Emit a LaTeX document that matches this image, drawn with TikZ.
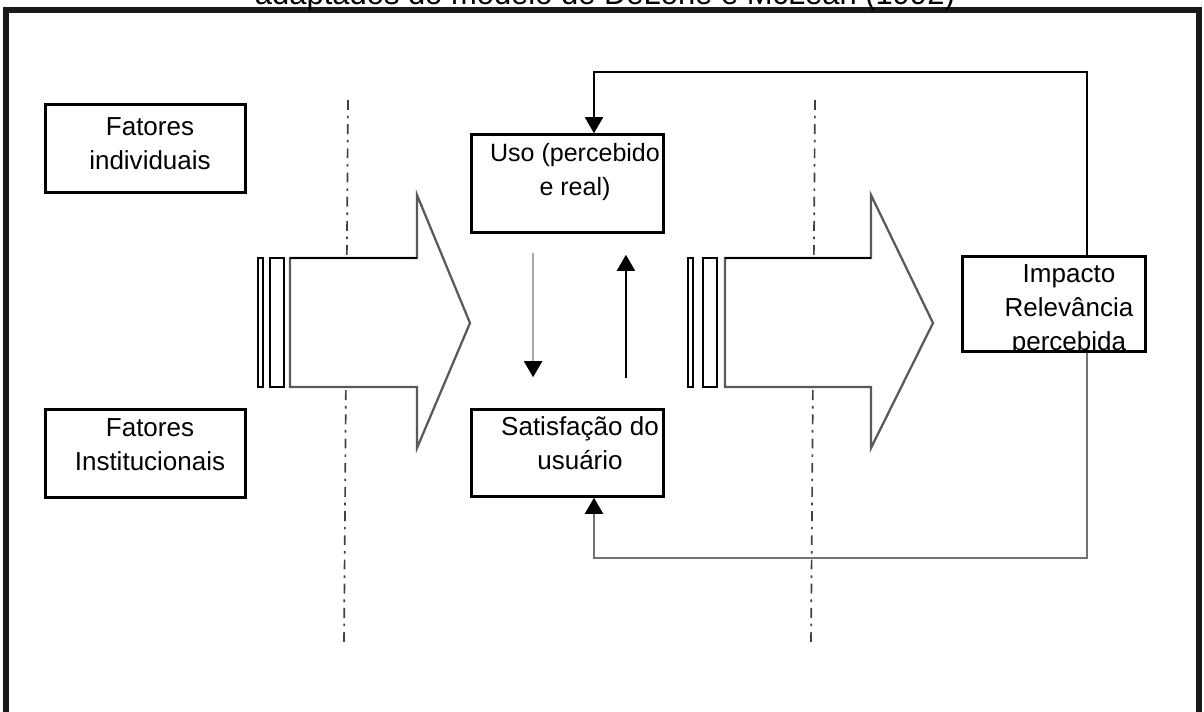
\documentclass[tikz,border=0pt]{standalone}
\usepackage{fontspec}
\setmainfont{Liberation Sans}
\usetikzlibrary{arrows.meta,calc}

\begin{document}
\begin{tikzpicture}[
    x=0.025cm, y=-0.025cm,
    box/.style={rectangle, draw=black, line width=1.8pt, fill=white},
    txt/.style={align=center, font=\fontsize{18.5pt}{24pt}\selectfont, inner sep=0pt},
    bigarrow/.style={draw=black!65, line width=1.6pt, fill=white, line join=miter},
    bar/.style={draw=black, line width=1.4pt, fill=white},
    sep/.style={black!75, line width=1.2pt, dash pattern=on 7pt off 4.2pt on 1.8pt off 4.2pt},
    loop/.style={line width=1.4pt, -{Triangle[width=0.45cm, length=0.4cm, color=black]}},
    frame/.style={line width=4.3pt, black!90, line join=miter},
]
\useasboundingbox (0,0) rectangle (1204,711);
\clip (0,0) rectangle (1204,711);

% frame and caption (cut at the top)
\draw[frame] (6,740) -- (6,9.7) -- (1199,9.7) -- (1199,740);
\node[anchor=base, font=\fontsize{22pt}{26pt}\selectfont] (title) at (605,4) {adaptados do modelo de DeLone e McLean (1992)};

% dash-dot separators
\draw[sep] (348,100) -- (344,645);
\draw[sep] (815,100) -- (811,645);

% boxes
\node[box, minimum width=5cm, minimum height=2.2cm] (indiv) at (145.5,148.5) {};
\node[txt] (indivt) at (150,143.5) {Fatores\\individuais};
\node[box, minimum width=5cm, minimum height=2.2cm] (inst) at (145.5,453.5) {};
\node[txt] (instt) at (150,445) {Fatores\\Institucionais};
\node[box, minimum width=4.8cm, minimum height=2.45cm] (uso) at (567.5,183.5) {};
\node[txt, font=\fontsize{17.8pt}{24pt}\selectfont] (usot) at (575,172) {Uso (percebido\\e real)};
\node[box, minimum width=4.8cm, minimum height=2.175cm] (sat) at (567.5,453) {};
\node[txt] (satt) at (580,443) {Satisfação do\\usuário};
\node[box, minimum width=4.575cm, minimum height=2.375cm] (imp) at (1054,304) {};
\begin{scope}
    \clip (imp.south west) rectangle (imp.north east);
    \node[txt] (impt) at (1069,310) {Impacto\\Relevância\\percebida};
\end{scope}

% feedback loop
\coordinate (ret) at (1087,72);
\coordinate (rebot) at (1087,558);
\coordinate (fbx) at (594,0);
\draw[loop] (imp.north -| ret) -- (ret) -- (ret -| fbx) -- (uso.north -| fbx);
\draw[loop, black!55] (imp.south -| ret) -- (rebot) -- (rebot -| fbx) -- (sat.south -| fbx);

% uso <-> satisfacao
\draw[loop, black!35] ([xshift=-0.86cm, yshift=-0.475cm]uso.south) -- ([xshift=-0.86cm, yshift=0.775cm]sat.north);
\draw[loop] ([xshift=1.46cm, yshift=0.75cm]sat.north) -- ([xshift=1.46cm, yshift=-0.525cm]uso.south);

% big arrows with bars
\draw[bar] (258,258) rectangle (263,387);
\draw[bar] (270,258) rectangle (284,387);
\draw[bigarrow] (290,258) -- (417,258) -- (417,195) -- (470,323) -- (417,448) -- (417,387) -- (290,387) -- cycle;
\draw[black, line width=1.6pt] (290,258) -- (417,258);

\draw[bar] (688,258) rectangle (693,387);
\draw[bar] (703,258) rectangle (717,387);
\draw[bigarrow] (725,258) -- (871,258) -- (871,195) -- (933,323) -- (871,448) -- (871,387) -- (725,387) -- cycle;
\draw[black, line width=1.6pt] (725,258) -- (871,258);
\end{tikzpicture}
\end{document}
